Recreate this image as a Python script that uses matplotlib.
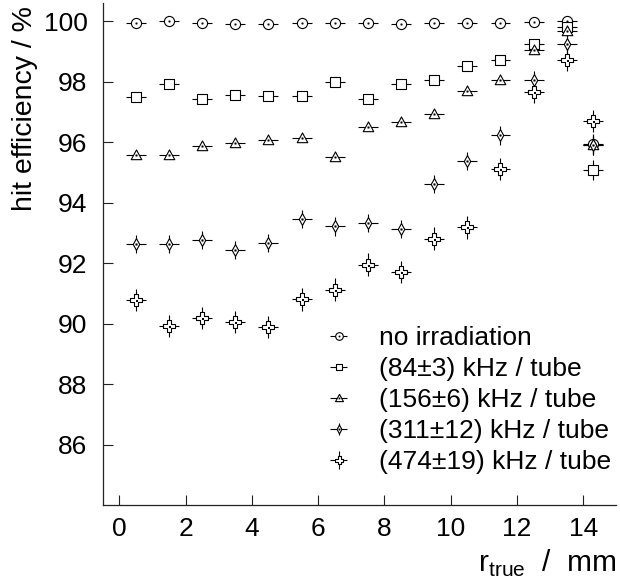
import matplotlib
matplotlib.use("Agg")
import matplotlib.pyplot as plt
from matplotlib.path import Path
from matplotlib.legend_handler import HandlerErrorbar

plt.rcParams["font.family"] = ["Liberation Sans", "DejaVu Sans"]
plt.rcParams["mathtext.fontset"] = "custom"
plt.rcParams["mathtext.rm"] = "Liberation Sans"

# bin centres of the drift radius (mm)
r_true = [0.5, 1.5, 2.5, 3.5, 4.5, 5.5, 6.5, 7.5, 8.5, 9.5, 10.5, 11.5, 12.5, 13.5, 14.3]

labels = ["no irradiation", "(84\u00b13) kHz / tube", "(156\u00b16) kHz / tube",
          "(311\u00b112) kHz / tube", "(474\u00b119) kHz / tube"]

eff_0 = [99.93, 100.0, 99.93, 99.91, 99.91, 99.93, 99.93, 99.93, 99.91, 99.93, 99.93, 99.93, 99.96, 100.02, 95.95]
eff_84 = [97.49, 97.91, 97.41, 97.57, 97.52, 97.54, 97.98, 97.43, 97.91, 98.04, 98.53, 98.72, 99.25, 99.79, 95.09]
eff_156 = [95.59, 95.59, 95.87, 95.97, 96.06, 96.13, 95.50, 96.50, 96.66, 96.94, 97.69, 98.04, 99.03, 99.69, 95.92]
eff_311 = [92.64, 92.62, 92.75, 92.42, 92.67, 93.47, 93.21, 93.32, 93.14, 94.62, 95.37, 96.22, 98.06, 99.23, 95.92]
eff_474 = [90.77, 89.92, 90.18, 90.05, 89.88, 90.80, 91.12, 91.95, 91.70, 92.81, 93.18, 95.12, 97.65, 98.72, 96.69]

err_0 = [0.03] * 14 + [0.33]
err_84 = [0.06] * 14 + [0.33]
err_156 = [0.12] * 14 + [0.33]
err_311 = [0.30] * 14 + [0.33]
err_474 = [0.37] * 14 + [0.36]
r_err = 0.3


def marker(verts):
    # open outline plus a small dot in the middle
    d = 0.09
    outer = Path(verts + [verts[0]], closed=True)
    dot = Path([(-d, -d), (d, -d), (d, d), (-d, d), (-d, -d)], closed=True)
    return Path.make_compound_path(outer, dot)


circ = Path.make_compound_path(Path.unit_circle(),
                               Path([(-.09, -.09), (.09, -.09), (.09, .09), (-.09, .09), (-.09, -.09)], closed=True))
sq = marker([(-1, -1), (1, -1), (1, 1), (-1, 1)])
tri = marker([(0, 1), (-0.95, -0.75), (0.95, -0.75)])
dia = marker([(0, 1), (0.55, 0), (0, -1), (-0.55, 0)])
a = 0.36
crs = marker([(-a, 1), (a, 1), (a, a), (1, a), (1, -a), (a, -a), (a, -1), (-a, -1),
              (-a, -a), (-1, -a), (-1, a), (-a, a)])

fig = plt.figure(figsize=(6.2, 5.79), dpi=100)
ax = fig.add_axes([102.7 / 620, 1 - 505 / 579, (616.5 - 102.7) / 620, (505 - 3) / 579])

series = [
    (eff_0, err_0, circ, 7.3, 0.0),
    (eff_84, err_84, sq, 6.6, 0.0),
    (eff_156, err_156, tri, 8.0, 0.12),
    (eff_311, err_311, dia, 8.5, 0.22),
    (eff_474, err_474, crs, 8.0, 0.34),
]

handles = []
hmap = {}
for (eff, err, m, ms, lyerr), lab in zip(series, labels):
    h = ax.errorbar(r_true, eff, xerr=r_err, yerr=err, linestyle="none",
                    marker=m, ms=ms, mfc="white", mec="black", mew=0.8,
                    ecolor="black", elinewidth=0.8, capsize=0)
    handles.append(h)
    hmap[h] = HandlerErrorbar(xerr_size=0.33, yerr_size=lyerr)

ax.set_xlim(-0.5, 15)
ax.set_ylim(84.0, 100.6)
ax.set_xticks(range(0, 15, 2))
ax.set_yticks(range(86, 101, 2))
ax.spines["top"].set_visible(False)
ax.spines["right"].set_visible(False)
for s in ("left", "bottom"):
    ax.spines[s].set_linewidth(0.9)
    ax.spines[s].set_color("#222222")
ax.tick_params(axis="both", direction="in", length=7.2, width=0.8, color="#222222", labelsize=19)
ax.tick_params(axis="y", pad=11)
ax.tick_params(axis="x", pad=9)

ax.legend(handles, labels, handler_map=hmap, loc="upper left",
          bbox_to_anchor=(325.5 / 620, 1 - 326 / 579), bbox_transform=fig.transFigure,
          frameon=False, fontsize=19, handlelength=1.0, handletextpad=1.03,
          labelspacing=0.27, borderpad=0, borderaxespad=0, markerscale=0.75)

fig.text(25 / 620, 1 - 6 / 579, "hit efficiency / %", rotation=90, ha="center", va="top", fontsize=20.5)
fig.text(617 / 620, 1 - 571.5 / 579, r"r$_\mathregular{true}$  /  mm", ha="right", va="baseline", fontsize=21.5)

fig.savefig("out.png", dpi=100)
